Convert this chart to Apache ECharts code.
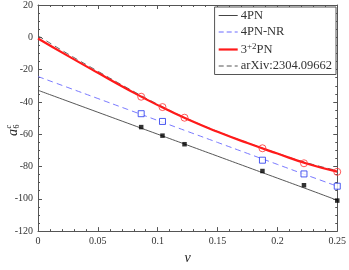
<!DOCTYPE html>
<html><head><meta charset="utf-8">
<script src="https://cdn.jsdelivr.net/npm/echarts@6/dist/echarts.min.js"></script>
<style>html,body{margin:0;padding:0;background:#fff}#c{width:349px;height:270px}</style>
</head><body><div id="c"></div>
<script>
// curve samples (nu, value)
var nuLine = [0, 0.025, 0.05, 0.075, 0.1, 0.125, 0.15, 0.175, 0.2, 0.225, 0.25];
var pn4Line = [-32.8, -39.6, -46.4, -53.2, -60.0, -66.8, -73.6, -80.4, -87.2, -94.0, -100.9];
var pn4nrLine = [-24.3, -31.1, -37.9, -44.7, -51.5, -58.3, -65.1, -71.9, -78.7, -85.5, -92.2];
var pn32Line = [-0.7, -11.5, -22.0, -32.3, -42.0, -50.8, -58.5, -65.5, -72.0, -78.3, -83.2];
var arxivLine = [1.0, -10.3, -21.0, -31.5, -41.5, -50.5, -58.3, -65.3, -71.8, -77.8, -82.5];
// marker points
var nuPts = [0.0862, 0.104, 0.1224, 0.1875, 0.2222, 0.25];
var pn4Pts = [-55.6, -60.9, -66.2, -82.8, -91.6, -101.1];
var pn32Pts = [-36.8, -43.2, -49.8, -68.7, -78.0, -83.3];
var nuNrPts = [0.0862, 0.104, 0.1875, 0.2222, 0.25];
var pn4nrPts = [-47.3, -52.1, -76.1, -84.6, -92.2];
var xTicks = [0, 0.05, 0.1, 0.15, 0.2, 0.25];
var yTicks = [-120, -100, -80, -60, -40, -20, 0, 20];

function zip(a, b) { return a.map(function (v, i) { return [v, b[i]]; }); }
var F = 'Liberation Serif';
var axC = '#555';
function xa(pos, lab) {
  return { type: 'value', position: pos, min: 0, max: 0.25, interval: 0.05,
    axisLine: { show: true, onZero: false, lineStyle: { color: axC, width: 1 } },
    axisTick: { show: true, inside: true, length: 4, lineStyle: { color: axC } },
    minorTick: { show: true, splitNumber: 5, length: 2, lineStyle: { color: axC } },
    splitLine: { show: false },
    axisLabel: { show: lab, fontFamily: F, fontSize: 10, color: '#333', margin: 5 } };
}
function ya(pos, lab) {
  return { type: 'value', position: pos, min: -120, max: 20, interval: 20,
    axisLine: { show: true, onZero: false, lineStyle: { color: axC, width: 1 } },
    axisTick: { show: true, inside: true, length: 4, lineStyle: { color: axC } },
    minorTick: { show: true, splitNumber: 4, length: 2, lineStyle: { color: axC } },
    splitLine: { show: false },
    axisLabel: { show: lab, fontFamily: F, fontSize: 10, color: '#333', margin: 5 } };
}
var chart = echarts.init(document.getElementById('c'), null, { renderer: 'canvas' });
var xA = xa('bottom', true);
xA.name = 'ν'; xA.nameLocation = 'middle'; xA.nameGap = 19;
xA.nameTextStyle = { fontFamily: F, fontStyle: 'italic', fontSize: 14, color: '#222' };
chart.setOption({
  animation: false,
  grid: { left: 38, right: 8, top: 4, bottom: 28 },
  xAxis: [xA, xa('top', false)],
  yAxis: [ya('left', true), ya('right', false)],
  legend: {
    orient: 'vertical', right: 13, top: 7, backgroundColor: '#fff',
    borderColor: '#555', borderWidth: 1, borderRadius: 0, padding: [2, 4, 2, 3],
    itemWidth: 19, itemHeight: 12, itemGap: 3.5,
    itemStyle: { opacity: 0 },
    data: [
      { name: '4PN', lineStyle: { width: 1 } },
      { name: '4PN-NR', lineStyle: { width: 1, type: [5, 3] } },
      { name: '3+2PN', lineStyle: { width: 2.2 } },
      { name: 'arXiv:2304.09662', lineStyle: { width: 1, type: [5, 3] } }
    ],
    formatter: function (n) { return n === '3+2PN' ? '3{s|+2}PN' : n; },
    textStyle: { fontFamily: F, fontSize: 12.5, color: '#333', padding: [0, 0, 0, -2],
      rich: { s: { fontFamily: F, fontSize: 9, verticalAlign: 'top', padding: [0, 0, 6, 0], color: '#333' } } }
  },
  graphic: [{
    type: 'group', x: 13, y: 136, rotation: Math.PI / 2,
    children: [
      { type: 'text', x: 0, y: 0, style: { text: 'a', font: 'italic 14px "Liberation Serif"', fill: '#222', textVerticalAlign: 'middle' } },
      { type: 'text', x: 7.5, y: -4, style: { text: 'c', font: 'italic 8px "Liberation Serif"', fill: '#222', textVerticalAlign: 'middle' } },
      { type: 'text', x: 7.5, y: 4, style: { text: '6', font: '8px "Liberation Serif"', fill: '#222', textVerticalAlign: 'middle' } }
    ]
  }],
  series: [
    { name: '4PN', type: 'line', data: zip(nuLine, pn4Line), symbol: 'none', smooth: true, z: 2,
      lineStyle: { color: '#444', width: 0.9 }, itemStyle: { color: '#444' } },
    { name: '4PN-NR', type: 'line', data: zip(nuLine, pn4nrLine), symbol: 'none', smooth: true, z: 2,
      lineStyle: { color: '#6a6aff', width: 0.9, type: [6, 4] }, itemStyle: { color: '#6a6aff' } },
    { name: '3+2PN', type: 'line', data: zip(nuLine, pn32Line), symbol: 'none', smooth: true, z: 3,
      lineStyle: { color: '#ff1a1a', width: 2.2 }, itemStyle: { color: '#ff1a1a' } },
    { name: 'arXiv:2304.09662', type: 'line', data: zip(nuLine, arxivLine), symbol: 'none', smooth: true, z: 2,
      lineStyle: { color: '#555', width: 0.9, type: [6, 4] }, itemStyle: { color: '#555' } },
    { type: 'scatter', data: zip(nuPts, pn4Pts), symbol: 'rect', symbolSize: 4.5, z: 5,
      itemStyle: { color: '#000' } },
    { type: 'scatter', data: zip(nuNrPts, pn4nrPts), symbol: 'rect', symbolSize: 6, z: 5,
      itemStyle: { color: '#fff', borderColor: '#2233ee', borderWidth: 1 } },
    { type: 'scatter', data: zip(nuPts, pn32Pts), symbol: 'circle', symbolSize: 7, z: 5,
      itemStyle: { color: 'rgba(255,255,255,0)', borderColor: '#ff3030', borderWidth: 1 } }
  ]
});
</script></body></html>
